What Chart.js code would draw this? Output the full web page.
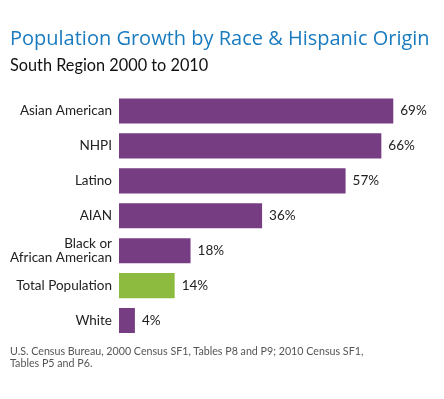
<!DOCTYPE html>
<html>
<head>
<meta charset="utf-8">
<script src="https://cdn.jsdelivr.net/npm/chart.js@4"></script>
<style>
  html, body { margin: 0; padding: 0; background: #fff; }
  .wrap { position: relative; width: 444px; height: 399px; }
  #chart { position: absolute; left: 0; top: 0; }
  .source {
    position: absolute; left: 10px; top: 345px; width: 430px;
    font-family: Lato, "Open Sans", sans-serif; font-size: 10.7px;
    line-height: 11.7px; color: #555;
  }
</style>
</head>
<body>
<div class="wrap">
  <canvas id="chart" width="444" height="399"></canvas>
  <div class="source">U.S. Census Bureau, 2000 Census SF1, Tables P8 and P9; 2010 Census SF1,<br>Tables P5 and P6.</div>
</div>
<script>
const categories = [
  "Asian American",
  "NHPI",
  "Latino",
  "AIAN",
  ["Black or", "African American"],
  "Total Population",
  "White"
];
const growthPct = [69, 66, 57, 36, 18, 14, 4];
const barColors = ["#773d82", "#773d82", "#773d82", "#773d82", "#773d82", "#8dbb3f", "#773d82"];

const titleText = "Population Growth by Race & Hispanic Origin";
const subtitleText = "South Region 2000 to 2010";

const fontFamily = "Lato, 'Open Sans', sans-serif";

// percent labels just right of each bar
const valueLabels = {
  id: "valueLabels",
  afterDatasetsDraw(chart) {
    const ctx = chart.ctx;
    const meta = chart.getDatasetMeta(0);
    ctx.save();
    ctx.font = "13.5px " + fontFamily;
    ctx.fillStyle = "#222";
    ctx.textAlign = "left";
    ctx.textBaseline = "middle";
    meta.data.forEach(function(bar, i) {
      ctx.fillText(growthPct[i] + "%", bar.x + 7, bar.y);
    });
    ctx.restore();
  }
};

const ctx = document.getElementById("chart").getContext("2d");
new Chart(ctx, {
  type: "bar",
  data: {
    labels: categories,
    datasets: [
      {
        data: growthPct,
        backgroundColor: barColors,
        categoryPercentage: 1,
        barPercentage: 0.72
      }
    ]
  },
  options: {
    indexAxis: "y",
    responsive: false,
    animation: false,
    layout: { padding: { left: 10, right: 7, top: 0, bottom: 61 } },
    plugins: {
      legend: { display: false },
      tooltip: { enabled: false },
      title: {
        display: true,
        text: titleText,
        align: "start",
        color: "#1a7bbf",
        font: { family: "'Open Sans', sans-serif", size: 20, weight: "normal", lineHeight: 1.2 },
        padding: { top: 27, bottom: 5 }
      },
      subtitle: {
        display: true,
        text: subtitleText,
        align: "start",
        color: "#111",
        font: { family: fontFamily, size: 16.3, weight: "normal", lineHeight: 1.2 },
        padding: { top: 0, bottom: 18 }
      }
    },
    scales: {
      x: {
        display: false,
        min: 0,
        max: 80
      },
      y: {
        grid: { display: false, drawTicks: false },
        border: { display: false },
        ticks: {
          color: "#222",
          padding: 7,
          font: { family: fontFamily, size: 13.5, lineHeight: 1.0 }
        },
        afterFit(scale) {
          scale.width = 109;
        }
      }
    }
  },
  plugins: [valueLabels]
});
</script>
</body>
</html>
